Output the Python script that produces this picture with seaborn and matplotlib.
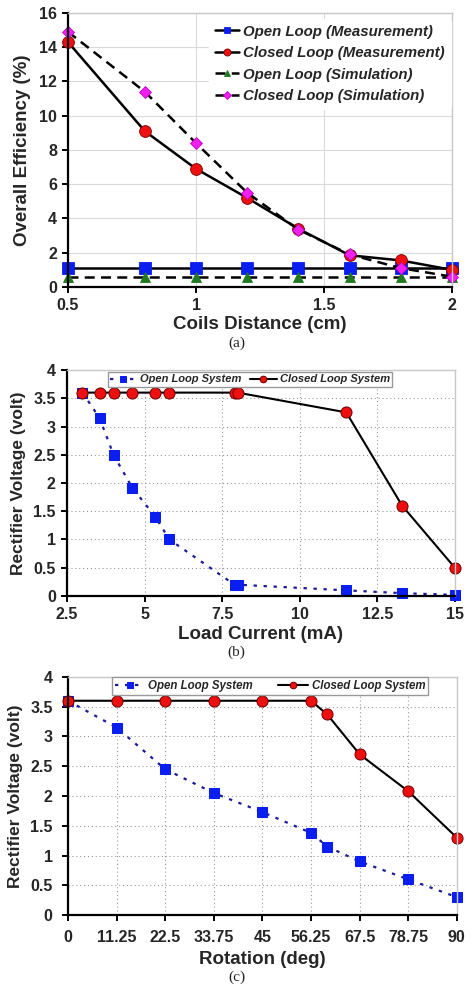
import numpy as np
import pandas as pd
import matplotlib
matplotlib.use('Agg')
import matplotlib.pyplot as plt
import seaborn as sns

# ---- panel (a): efficiency vs coil distance ----
dist_cm = [0.5, 0.8, 1.0, 1.2, 1.4, 1.6, 1.8, 2.0]
open_meas = [1.1, 1.1, 1.1, 1.1, 1.1, 1.1, 1.1, 1.1]
closed_meas = [14.3, 9.1, 6.9, 5.2, 3.4, 1.85, 1.55, 1.0]
open_sim = [0.6, 0.6, 0.6, 0.6, 0.6, 0.6, 0.6, 0.6]
closed_sim = [14.9, 11.4, 8.4, 5.5, 3.35, 1.9, 1.1, 0.6]

# ---- panel (b): rectifier voltage vs load current ----
load_ma = [3.0, 3.55, 4.0, 4.6, 5.35, 5.8, 7.9, 8.0, 11.5, 13.3, 15.0]
closed_load_v = [3.6, 3.6, 3.6, 3.6, 3.6, 3.6, 3.6, 3.6, 3.25, 1.6, 0.5]
open_load_ma = [3.0, 3.55, 4.0, 4.6, 5.35, 5.8, 7.9, 8.0, 11.5, 13.3, 15.0]
open_load_v = [3.6, 3.15, 2.5, 1.92, 1.4, 1.0, 0.2, 0.2, 0.1, 0.05, 0.02]

# ---- panel (c): rectifier voltage vs rotation ----
rot_deg = [0, 11.25, 22.5, 33.75, 45, 56.25, 60, 67.5, 78.75, 90]
closed_rot_v = [3.6, 3.6, 3.6, 3.6, 3.6, 3.6, 3.37, 2.7, 2.08, 1.3]
open_rot_v = [3.6, 3.15, 2.45, 2.05, 1.73, 1.38, 1.15, 0.9, 0.6, 0.3]

volt_ticks = [0, 0.5, 1, 1.5, 2, 2.5, 3, 3.5, 4]
volt_labels = ['0', '0.5', '1', '1.5', '2', '2.5', '3', '3.5', '4']

sns.set_style('white')
plt.rcParams['font.family'] = ['Liberation Sans', 'DejaVu Sans']
plt.rcParams['font.weight'] = 'bold'

fig = plt.figure(figsize=(4.73, 9.92), dpi=100)
ax_a = fig.add_axes([0.1438, 0.7107, 0.812, 0.2762])
ax_b = fig.add_axes([0.1416, 0.3992, 0.820, 0.2278])
ax_c = fig.add_axes([0.1438, 0.0776, 0.822, 0.2400])


def style_axes(ax, grid_ls, grid_color, pad=3):
    ax.grid(True, linestyle=grid_ls, color=grid_color, linewidth=0.8)
    ax.set_axisbelow(True)
    for s in ['top', 'right']:
        ax.spines[s].set_color('#c8c8c8')
        ax.spines[s].set_linewidth(1.0)
    for s in ['left', 'bottom']:
        ax.spines[s].set_color('black')
        ax.spines[s].set_linewidth(1.6)
    ax.tick_params(axis='both', direction='out', length=4, width=1.4,
                   color='black', labelsize=11.5, pad=pad,
                   left=True, bottom=True)
    for lab in ax.get_xticklabels() + ax.get_yticklabels():
        lab.set_fontweight('bold')
    for ln in ax.lines:
        ln.set_clip_on(False)


def style_legend(leg):
    for t in leg.get_texts():
        t.set_fontstyle('italic')
        t.set_fontweight('bold')


# panel (a)
kw = dict(ax=ax_a, estimator=None, sort=False, markeredgewidth=0.6)
sns.lineplot(x=dist_cm, y=open_meas, color='black', lw=1.8, marker='s',
             markersize=8, markerfacecolor='#0b1ef0', markeredgecolor='#0b1ef0',
             label='Open Loop (Measurement)', **kw)
sns.lineplot(x=dist_cm, y=closed_meas, color='black', lw=1.8, marker='o',
             markersize=8.5, markerfacecolor='#ee1010', markeredgecolor='#7a0000',
             label='Closed Loop (Measurement)', **kw)
sns.lineplot(x=dist_cm, y=open_sim, color='black', lw=1.8, linestyle=(0, (4, 2.5)),
             marker='^', markersize=7.5, markerfacecolor='#1f7a1f',
             markeredgecolor='#1f7a1f', label='Open Loop (Simulation)', **kw)
sns.lineplot(x=dist_cm, y=closed_sim, color='black', lw=1.8, linestyle=(0, (4, 2.5)),
             marker='D', markersize=6.5, markerfacecolor='#f020f0',
             markeredgecolor='#c000c0', label='Closed Loop (Simulation)', **kw)
ax_a.set_xlim(0.5, 2.0)
ax_a.set_ylim(0, 16)
ax_a.set_xticks([0.5, 1, 1.5, 2])
ax_a.set_xticklabels(['0.5', '1', '1.5', '2'])
ax_a.set_yticks(range(0, 17, 2))
ax_a.set_xlabel('Coils Distance (cm)', fontsize=13.5, fontweight='bold', labelpad=2)
ax_a.set_ylabel('Overall Efficiency (%)', fontsize=13.5, fontweight='bold', labelpad=6)
style_axes(ax_a, '-', '#d9d9d9', pad=4)
leg = ax_a.legend(loc='upper right', bbox_to_anchor=(1.005, 0.99), frameon=True,
                  framealpha=1, edgecolor='white', fontsize=10.8,
                  handlelength=1.6, handletextpad=0.3, labelspacing=0.5,
                  borderaxespad=0.2, markerscale=0.6)
style_legend(leg)
fig.text(0.5, 1 - 343 / 992, '(a)', ha='center', va='center',
         family=['Liberation Serif'], fontsize=11, fontweight='normal')

# panel (b)
sns.lineplot(x=open_load_ma, y=open_load_v, ax=ax_b, estimator=None, sort=False,
             color='#1a1a9a', lw=1.6, linestyle=(0, (1.5, 3)), marker='s',
             markersize=7.5, markerfacecolor='#0b1ef0', markeredgecolor='#0b1ef0',
             label='Open Loop System')
sns.lineplot(x=load_ma, y=closed_load_v, ax=ax_b, estimator=None, sort=False,
             color='black', lw=1.5, marker='o', markersize=8,
             markerfacecolor='#ee1010', markeredgecolor='#6a0000',
             markeredgewidth=0.7, label='Closed Loop System')
ax_b.set_xlim(2.5, 15)
ax_b.set_ylim(0, 4)
ax_b.set_xticks([2.5, 5, 7.5, 10, 12.5, 15])
ax_b.set_xticklabels(['2.5', '5', '7.5', '10', '12.5', '15'])
ax_b.set_yticks(volt_ticks)
ax_b.set_yticklabels(volt_labels)
ax_b.set_xlabel('Load Current (mA)', fontsize=13.5, fontweight='bold', labelpad=3)
ax_b.set_ylabel('Rectifier Voltage (volt)', fontsize=12.5, fontweight='bold', labelpad=5)
style_axes(ax_b, (0, (1, 2.5)), '#999999', pad=4)
leg = ax_b.legend(loc='upper center', bbox_to_anchor=(0.472, 0.99), ncol=2,
                  frameon=True, framealpha=1, edgecolor='#999999', fancybox=False,
                  fontsize=8, handlelength=2.4, handletextpad=0.3,
                  columnspacing=0.8, borderaxespad=0.0, borderpad=0.2,
                  markerscale=0.6)
style_legend(leg)
fig.text(0.5, 1 - 652 / 992, '(b)', ha='center', va='center',
         family=['Liberation Serif'], fontsize=11, fontweight='normal')

# panel (c)
sns.lineplot(x=rot_deg, y=open_rot_v, ax=ax_c, estimator=None, sort=False,
             color='#1a1a9a', lw=1.6, linestyle=(0, (1.5, 3)), marker='s',
             markersize=7.5, markerfacecolor='#0b1ef0', markeredgecolor='#0b1ef0',
             label='Open Loop System')
sns.lineplot(x=rot_deg, y=closed_rot_v, ax=ax_c, estimator=None, sort=False,
             color='black', lw=1.5, marker='o', markersize=8,
             markerfacecolor='#ee1010', markeredgecolor='#6a0000',
             markeredgewidth=0.7, label='Closed Loop System')
ax_c.set_xlim(0, 90)
ax_c.set_ylim(0, 4)
ax_c.set_xticks(np.arange(0, 91, 11.25))
ax_c.set_xticklabels(['0', '11.25', '22.5', '33.75', '45', '56.25', '67.5', '78.75', '90'])
ax_c.set_yticks(volt_ticks)
ax_c.set_yticklabels(volt_labels)
ax_c.set_xlabel('Rotation (deg)', fontsize=13.5, fontweight='bold', labelpad=4)
ax_c.set_ylabel('Rectifier Voltage (volt)', fontsize=12.5, fontweight='bold', labelpad=5)
style_axes(ax_c, (0, (1, 2.5)), '#999999', pad=7)
leg = ax_c.legend(loc='upper center', bbox_to_anchor=(0.52, 1.0), ncol=2,
                  frameon=True, framealpha=1, edgecolor='#999999', fancybox=False,
                  fontsize=8.3, handlelength=2.6, handletextpad=0.3,
                  columnspacing=2.2, borderaxespad=0.0, borderpad=0.25,
                  markerscale=0.6)
style_legend(leg)
fig.text(0.5, 1 - 977 / 992, '(c)', ha='center', va='center',
         family=['Liberation Serif'], fontsize=11, fontweight='normal')

fig.savefig('out.png', dpi=100)
